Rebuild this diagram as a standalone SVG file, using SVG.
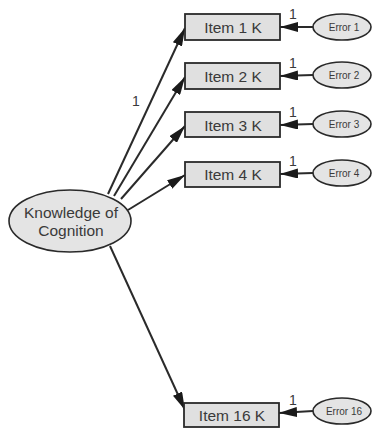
<svg xmlns="http://www.w3.org/2000/svg" width="372" height="431" viewBox="0 0 372 431">
<style>
.box{fill:#e0e0e0;stroke:#2a2a2a;stroke-width:1.8}
.ell{fill:#e4e4e4;stroke:#2a2a2a;stroke-width:1.6}
.t{font-family:"Liberation Sans",Arial,sans-serif;fill:#3a3a3a;text-anchor:middle}
.it{font-size:15.5px}
.er{font-size:10px}
.one{font-size:14px;text-anchor:start}
.c{stroke:#2a2a2a;stroke-width:2;marker-end:url(#ah)}
</style>
<defs>
<marker id="ah" viewBox="0 0 10 10" refX="10" refY="5" markerWidth="18" markerHeight="10" orient="auto" markerUnits="userSpaceOnUse" preserveAspectRatio="none">
<path d="M0,0 L10,5 L0,10 z" fill="#1a1a1a"/>
</marker>
</defs>
<rect width="372" height="431" fill="#ffffff"/>
<g id="connectors">
<line class="c" x1="108" y1="194" x2="185" y2="28"/>
<line class="c" x1="114" y1="196" x2="185" y2="77"/>
<line class="c" x1="121" y1="199" x2="185" y2="126"/>
<line class="c" x1="128" y1="210" x2="185" y2="175"/>
<line class="c" x1="110" y1="246" x2="185" y2="410"/>
<line class="c" x1="313" y1="27" x2="280" y2="27"/>
<line class="c" x1="313" y1="75" x2="280" y2="76"/>
<line class="c" x1="313" y1="124" x2="280" y2="125"/>
<line class="c" x1="313" y1="173" x2="280" y2="174"/>
<line class="c" x1="313" y1="411" x2="279" y2="413"/>
<text class="t one" x="132" y="106">1</text>
<text class="t one" x="289" y="19">1</text>
<text class="t one" x="289" y="68">1</text>
<text class="t one" x="289" y="117">1</text>
<text class="t one" x="289" y="166">1</text>
<text class="t one" x="289" y="405">1</text>
</g>
<g id="knowledge">
<ellipse class="ell" cx="70" cy="221" rx="61" ry="31"/>
<text class="t" x="71" y="218" font-size="15.5">Knowledge of</text>
<text class="t" x="71" y="236" font-size="15.5">Cognition</text>
</g>
<g id="item1"><rect class="box" x="185" y="14" width="95" height="26"/><text class="t it" x="233" y="33">Item 1 K</text></g>
<g id="item2"><rect class="box" x="185" y="63" width="95" height="26"/><text class="t it" x="233" y="82">Item 2 K</text></g>
<g id="item3"><rect class="box" x="185" y="112" width="95" height="25"/><text class="t it" x="233" y="131">Item 3 K</text></g>
<g id="item4"><rect class="box" x="185" y="162" width="95" height="25"/><text class="t it" x="233" y="180">Item 4 K</text></g>
<g id="item16"><rect class="box" x="184" y="403" width="95" height="24"/><text class="t it" x="232" y="421">Item 16 K</text></g>
<g id="error1"><ellipse class="ell" cx="342" cy="27" rx="29" ry="13"/><text class="t er" x="344" y="31">Error 1</text></g>
<g id="error2"><ellipse class="ell" cx="342" cy="75" rx="29" ry="13"/><text class="t er" x="344" y="79">Error 2</text></g>
<g id="error3"><ellipse class="ell" cx="342" cy="124" rx="29" ry="13"/><text class="t er" x="344" y="128">Error 3</text></g>
<g id="error4"><ellipse class="ell" cx="342" cy="173" rx="29" ry="13"/><text class="t er" x="344" y="177">Error 4</text></g>
<g id="error16"><ellipse class="ell" cx="342" cy="411" rx="29" ry="13"/><text class="t er" x="344" y="415">Error 16</text></g>
</svg>
